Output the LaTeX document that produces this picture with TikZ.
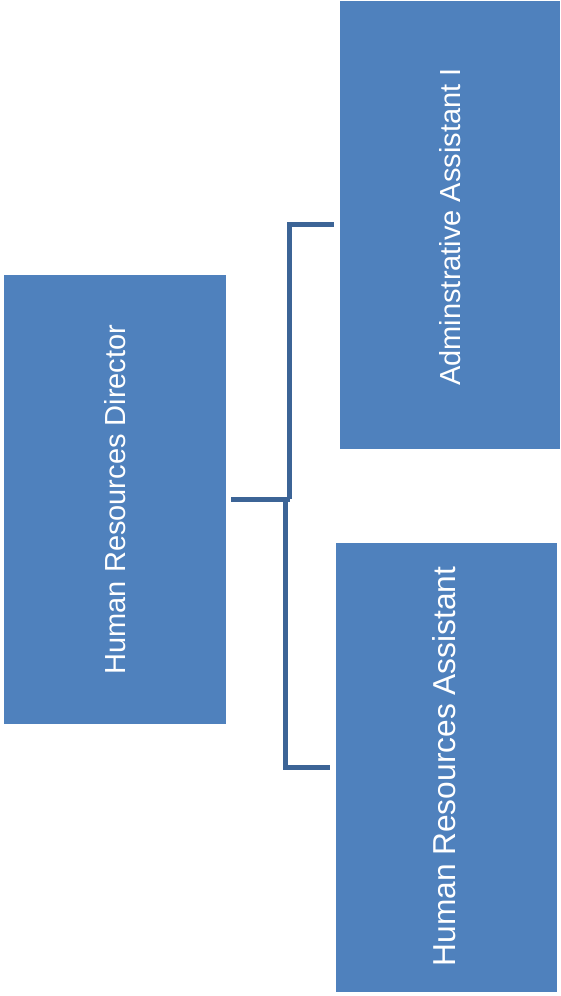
\documentclass[tikz,border=0pt]{standalone}
\usepackage{fontspec}
\setmainfont{Liberation Sans}
\definecolor{boxblue}{HTML}{4F81BD}
\definecolor{connblue}{HTML}{3C6496}
\begin{document}
\begin{tikzpicture}[x=1pt,y=1pt,
  box/.style={draw=none,fill=boxblue,rectangle,inner sep=0pt,anchor=center},
  txt/.style={text=white,rotate=90,inner sep=0pt,font=\fontsize{29}{35}\selectfont},
  bigtxt/.style={txt,font=\fontsize{31.7}{38}\selectfont},
  conn/.style={draw=connblue,line width=5pt,line join=miter}]
\useasboundingbox (0,0) rectangle (560,996);
\node[box,minimum width=222pt,minimum height=449pt] (dir) at (115,496.5) {};
\node[txt] (dirt) at (dir.center) {Human Resources Director};
\node[box,minimum width=220pt,minimum height=448pt] (adm) at (450,771) {};
\node[txt] (admt) at ([yshift=-2pt]adm.center) {Adminstrative Assistant I};
\node[box,minimum width=221pt,minimum height=449pt] (hra) at (446.5,228.5) {};
\node[bigtxt] (hrat) at ([xshift=-2pt,yshift=1pt]hra.center) {Human Resources Assistant};
\coordinate (jA) at (289.5,496.5);
\coordinate (jB) at (285.5,496.5);
\coordinate (tA) at (289.5,771);
\coordinate (bB) at (285.5,228.5);
\draw[conn] ([xshift=5pt]dir.east) -- (jA);
\draw[conn] (jA) -- (tA) -- ([xshift=-6pt]adm.west);
\draw[conn] (jB) -- (bB) -- ([xshift=-6pt]hra.west);
\end{tikzpicture}
\end{document}
